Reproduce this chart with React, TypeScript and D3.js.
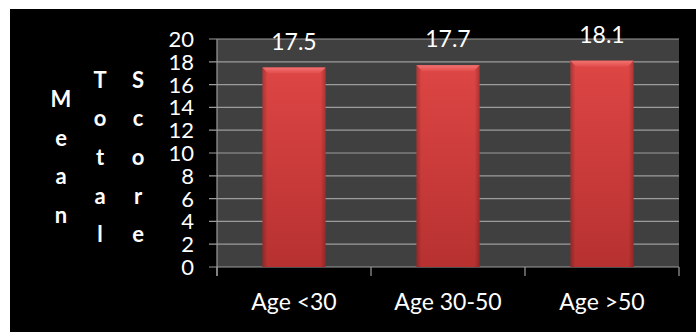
import React from "react";
import * as d3 from "d3";

const categories = ["Age <30", "Age 30-50", "Age >50"];
const meanScores = [17.5, 17.7, 18.1];
const yTicks = [0, 2, 4, 6, 8, 10, 12, 14, 16, 18, 20];
const titleColumns = ["Mean", "Total", "Score"];

export default function App() {
  const W = 696, H = 333;
  const left = 217, right = 679, top = 39, bottom = 267;
  const x = d3.scaleBand<string>().domain(categories).range([left, right]).paddingInner(0.59).paddingOuter(0.295);
  const y = d3.scaleLinear().domain([0, 20]).range([bottom, top]);
  const band = d3.scaleBand<string>().domain(categories).range([left, right]);
  const font = "Lato, 'Open Sans', sans-serif";
  const colX = [61, 100, 138];
  const step = 38.6;
  const centerY = 157;

  return (
    <svg width={W} height={H} style={{ position: "absolute", left: 0, top: 0, background: "#fff" }}>
      <defs>
        <linearGradient id="barV" x1="0" y1="0" x2="0" y2="1">
          <stop offset="0" stopColor="#dd4644" />
          <stop offset="1" stopColor="#b73131" />
        </linearGradient>
        <linearGradient id="barH" x1="0" y1="0" x2="1" y2="0">
          <stop offset="0" stopColor="#000" stopOpacity="0.22" />
          <stop offset="0.08" stopColor="#000" stopOpacity="0" />
          <stop offset="0.92" stopColor="#000" stopOpacity="0" />
          <stop offset="1" stopColor="#000" stopOpacity="0.22" />
        </linearGradient>
        <linearGradient id="bevel" x1="0" y1="0" x2="0" y2="1">
          <stop offset="0" stopColor="#f27372" />
          <stop offset="1" stopColor="#e24c4a" />
        </linearGradient>
      </defs>
      <rect x={10} y={9} width={W - 10} height={323} fill="#000" />
      <rect x={left} y={top} width={right - left} height={bottom - top} fill="#404040" />
      {yTicks.map((t) => (
        <line key={"g" + t} x1={209} x2={right} y1={y(t)} y2={y(t)} stroke="#9c9c9c" strokeWidth={1.2} />
      ))}
      <line x1={left} x2={left} y1={top} y2={276} stroke="#9c9c9c" strokeWidth={1.2} />
      {[...categories.map((c) => band(c) as number), right].map((px, i) => (
        <line key={"xt" + i} x1={px} x2={px} y1={bottom} y2={276} stroke="#9c9c9c" strokeWidth={1.2} />
      ))}
      {yTicks.map((t) => (
        <text key={"yl" + t} x={194} y={y(t)} dy="0.36em" textAnchor="end" fill="#fff" fontFamily={font} fontSize={22}>
          {t}
        </text>
      ))}
      {categories.map((c, i) => {
        const bx = x(c) as number;
        const bw = x.bandwidth();
        const by = y(meanScores[i]);
        const bh = bottom - by;
        const bev = 6;
        return (
          <g key={c}>
            <rect x={bx} y={by} width={bw} height={bh} fill="url(#barV)" />
            <rect x={bx} y={by} width={bw} height={bh} fill="url(#barH)" />
            <polygon
              points={`${bx},${by} ${bx + bw},${by} ${bx + bw - bev},${by + bev} ${bx + bev},${by + bev}`}
              fill="url(#bevel)"
            />
            <text x={bx + bw / 2} y={by - 18} textAnchor="middle" fill="#fff" fontFamily={font} fontSize={23}>
              {meanScores[i]}
            </text>
            <text x={(band(c) as number) + band.bandwidth() / 2} y={310} textAnchor="middle" fill="#fff" fontFamily={font} fontSize={23}>
              {c}
            </text>
          </g>
        );
      })}
      {titleColumns.map((word, ci) => {
        const letters = word.split("");
        const startY = centerY - ((letters.length - 1) * step) / 2;
        return letters.map((ch, li) => (
          <text key={word + li} x={colX[ci]} y={startY + li * step} dy="0.36em" textAnchor="middle" fill="#fff" fontFamily={font} fontWeight="bold" fontSize={22}>
            {ch}
          </text>
        ));
      })}
    </svg>
  );
}
